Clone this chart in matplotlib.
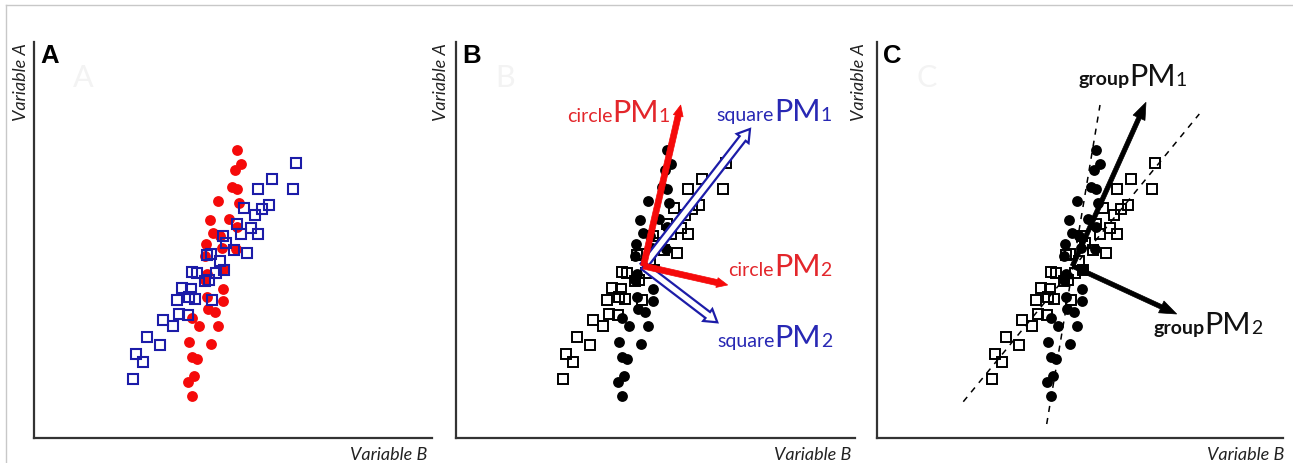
import matplotlib
matplotlib.use('Agg')
import matplotlib.pyplot as plt
from matplotlib.patches import FancyArrow
from matplotlib.lines import Line2D
from matplotlib.offsetbox import TextArea, HPacker, AnnotationBbox

# 두 그룹의 산점도 값 (Variable B = x, Variable A = y)
circle_x = [202.7, 207, 200.7, 198.3, 202.7, 183.7, 204.7, 176, 195.3, 179.3,
            202.7, 186, 172, 187.7, 170.7, 202, 173.3, 189.7, 170.7, 189.3,
            173.3, 189.3, 174.3, 181, 157.7, 165, 184.3, 155.3, 176.7, 158.3,
            162.7, 160, 154.3, 158.3]
circle_y = [288, 274.3, 268.3, 251.3, 249, 237, 235, 218.3, 219, 205,
            211.3, 201.7, 194, 189.7, 181.7, 189, 163.7, 169, 157.7, 149,
            141.3, 136.7, 129, 125.7, 120.3, 111.7, 112.3, 96.3, 93.7, 80.7,
            79, 61.7, 56.3, 42.3]
square_x = [262, 237.7, 224.3, 259.3, 234.7, 227.7, 210, 220.7, 203.3, 216.7,
            206.7, 224.3, 188.7, 192, 200, 213, 176.7, 172.7, 186, 190,
            182, 158, 163.3, 175.3, 171, 148, 157.3, 142.7, 161, 154.7,
            178.3, 145, 154.3, 128.7, 139.3, 112.7, 126, 101.7, 109.3, 98.7]
square_y = [275.3, 259.3, 249, 249.3, 233.3, 229, 229.7, 223, 213.7, 210.3,
            204, 203.7, 202.3, 194.7, 188.3, 184.7, 184, 183, 177.3, 168.3,
            164.7, 166.3, 165, 158.3, 157, 149.7, 149, 138, 139, 140.7,
            138.3, 123.7, 123, 118, 112.3, 101.3, 93, 84, 75.7, 58.7]

# 주성분 벡터 (시작점 + 끝점)
pm_origin = [179.5, 172.0]
circle_pm_tip_x = [216.7, 263.7]
circle_pm_tip_y = [333.0, 153.0]
square_pm_tip_x = [286.0, 253.3]
square_pm_tip_y = [309.0, 115.7]
group_pm_tip_x = [253.0, 283.7]
group_pm_tip_y = [335.7, 124.0]

# 그룹별 회귀선 (패널 C 점선)
circle_fit_x = [153.7, 207.0]
circle_fit_y = [14.0, 333.0]
square_fit_x = [70.3, 306.3]
square_fit_y = [36.3, 324.0]

# 라벨 위치 (기준선)
circle_label_x = [102.7, 264.3]
circle_label_y = [318.0, 164.0]
square_label_x = [252.7, 253.3]
square_label_y = [318.3, 92.3]
group_label_x = [185.3, 260.3]
group_label_y = [354.0, 105.7]

W, H = 1293, 464
RED = '#f50a0a'
RED_TXT = '#e3262b'
BLUE = '#1c1ca8'
BLUE_TXT = '#2828b4'
AXIS_C = '#333333'

fig = plt.figure(figsize=(W / 100, H / 100), dpi=100)

# 바깥 테두리 (위/왼쪽)
fig.add_artist(Line2D([6 / W, 6 / W], [0, 1 - 6 / H], transform=fig.transFigure,
                      color='#c8c8c8', lw=1))
fig.add_artist(Line2D([6 / W, 1], [1 - 6 / H, 1 - 6 / H], transform=fig.transFigure,
                      color='#c8c8c8', lw=1))

# 패널 박스 (픽셀): left, right, x-shift
panels = [('A', 34, 432, 0), ('B', 456, 855, 8), ('C', 877, 1283, 16)]
ylab_x = [21, 441, 859]
xlab_right = [427, 851, 1284]
AX_TOP, AX_BOT = 43, 439


def pm_label(ax, x, y, prefix, num, color, weight='normal'):
    small = dict(family='Lato', size=14, color=color, weight=weight)
    parts = [TextArea(prefix, textprops=small),
             TextArea('PM', textprops=dict(family='Lato', size=22, color=color)),
             TextArea(num, textprops=dict(family='Lato', size=14, color=color))]
    box = HPacker(children=parts, align='baseline', pad=0, sep=0)
    ab = AnnotationBbox(box, (x, y - 5.5), xycoords='data', box_alignment=(0, 0),
                        frameon=False, pad=0)
    ax.add_artist(ab)


axes = []
for i, (name, left, right, shift) in enumerate(panels):
    ax = fig.add_axes([left / W, (H - AX_BOT) / H, (right - left) / W, (AX_BOT - AX_TOP) / H])
    ax.set_xlim(-shift, right - left - shift)
    ax.set_ylim(0, AX_BOT - AX_TOP)
    ax.set_xticks([])
    ax.set_yticks([])
    ax.spines[['top', 'right']].set_visible(False)
    for s in ['left', 'bottom']:
        ax.spines[s].set_color(AXIS_C)
        ax.spines[s].set_linewidth(1.6)
    ax.patch.set_alpha(0)
    axes.append(ax)

    # 패널 문자 + 희미한 워터마크 문자
    fig.text((left + 6) / W, 1 - 44 / H, name, ha='left', va='top',
             family='Liberation Sans', weight='bold', fontsize=18.5, color='black')
    fig.text((left + 39) / W, 1 - 64 / H, name, ha='left', va='top',
             family='Lato', fontsize=22, color='#f3f3f3')

    fig.text(ylab_x[i] / W, 1 - AX_TOP / H, 'Variable A', rotation=90, ha='center',
             va='top', family='Lato', style='italic', fontsize=13, color='#222222')
    fig.text(xlab_right[i] / W, 1 - 460 / H, 'Variable B', ha='right', va='baseline',
             family='Lato', style='italic', fontsize=13, color='#222222')

axA, axB, axC = axes

# A: 빨간 원 + 파란 사각형
axA.plot(circle_x, circle_y, 'o', ms=7.8, color=RED, mec=RED, mew=0, zorder=2)
axA.plot(square_x, square_y, 's', ms=7.6, mfc='none', mec=BLUE, mew=1.5, zorder=3)

# B, C: 검은색 점
for ax in (axB, axC):
    ax.plot(circle_x, circle_y, 'o', ms=7.8, color='black', mew=0, zorder=2)
    ax.plot(square_x, square_y, 's', ms=7.6, mfc='none', mec='black', mew=1.4, zorder=3)

# B: 그룹별 주성분
ox, oy = pm_origin
for tx, ty in zip(square_pm_tip_x, square_pm_tip_y):
    axB.add_patch(FancyArrow(ox, oy, tx - ox, ty - oy, width=7.5, head_width=15,
                             head_length=12, length_includes_head=True,
                             fc='white', ec=BLUE, lw=1.6, zorder=4))
for tx, ty in zip(circle_pm_tip_x, circle_pm_tip_y):
    axB.add_patch(FancyArrow(ox, oy, tx - ox, ty - oy, width=6, head_width=10,
                             head_length=11, length_includes_head=True,
                             fc=RED, ec=RED, lw=0.5, zorder=5))

for k in range(2):
    pm_label(axB, circle_label_x[k], circle_label_y[k], 'circle', str(k + 1), RED_TXT)
    pm_label(axB, square_label_x[k], square_label_y[k], 'square', str(k + 1), BLUE_TXT)

# C: 회귀선 + 전체 주성분
axC.plot(circle_fit_x, circle_fit_y, ls=(0, (4, 4)), color='black', lw=1.1, zorder=1)
axC.plot(square_fit_x, square_fit_y, ls=(0, (4, 4)), color='black', lw=1.1, zorder=1)
for tx, ty in zip(group_pm_tip_x, group_pm_tip_y):
    axC.add_patch(FancyArrow(ox, oy, tx - ox, ty - oy, width=4.5, head_width=13,
                             head_length=17, length_includes_head=True,
                             fc='black', ec='black', lw=0.5, zorder=5))
for k in range(2):
    pm_label(axC, group_label_x[k], group_label_y[k], 'group', str(k + 1), '#111111',
             weight='bold')

plt.savefig('out.png', dpi=100)
plt.close()
